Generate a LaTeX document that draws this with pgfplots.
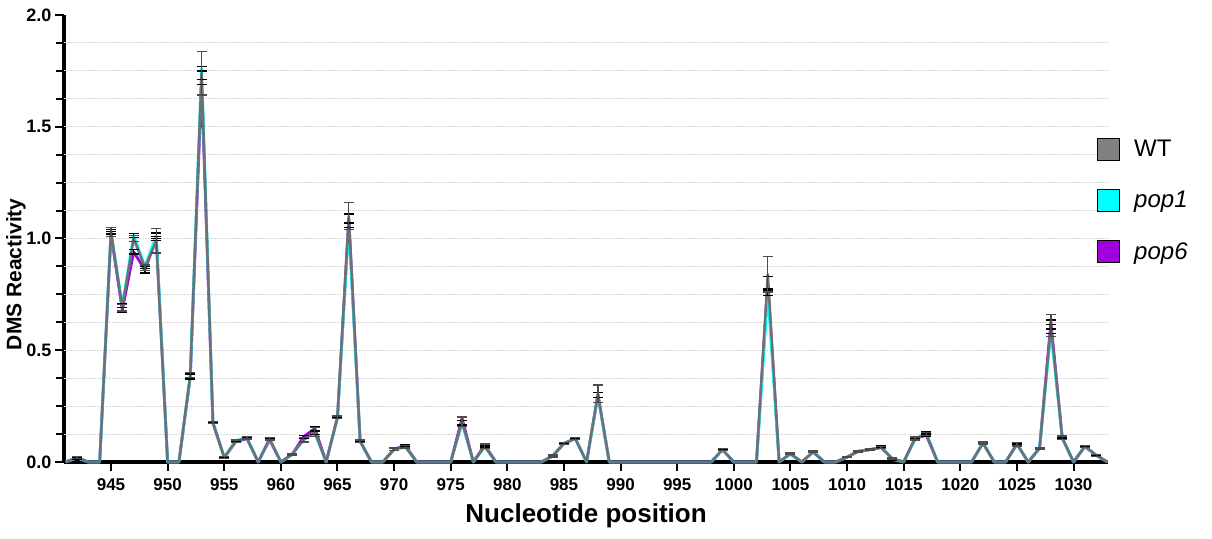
\documentclass[border=0pt]{standalone}
\usepackage{pgfplots}
\pgfplotsset{compat=1.18}
\usepackage{pgfplotstable}
\usepackage{fontspec}
\setmainfont{Liberation Sans}
\definecolor{wtline}{RGB}{110,112,115}
\definecolor{wtfill}{RGB}{128,128,128}
\definecolor{popone}{RGB}{0,255,255}
\definecolor{popsix}{RGB}{160,0,220}
\definecolor{gridc}{RGB}{215,215,215}

\pgfplotstableread{
x wt ewt p1 ep1 p6 ep6
941 0 0 0 0 0 0
942 0.020 0.005 0.018 0.004 0.020 0.004
943 0 0 0 0 0 0
944 0 0 0 0 0 0
945 1.030 0.020 1.030 0.010 1.020 0.010
946 0.690 0.015 0.700 0.010 0.680 0.012
947 1.000 0.012 1.013 0.010 0.940 0.010
948 0.870 0.012 0.875 0.010 0.860 0.015
949 0.990 0.055 1.013 0.012 1.000 0.010
950 0 0 0 0 0 0
951 0 0 0 0 0 0
952 0.390 0.012 0.385 0.010 0.380 0.010
953 1.740 0.098 1.760 0.010 1.700 0.010
954 0.177 0.005 0.175 0.004 0.175 0.004
955 0.020 0.004 0.020 0.003 0.020 0.003
956 0.092 0.006 0.096 0.004 0.090 0.004
957 0.108 0.005 0.108 0.004 0.105 0.004
958 0 0 0 0 0 0
959 0.104 0.006 0.104 0.004 0.100 0.004
960 0 0 0 0 0 0
961 0.034 0.003 0.034 0.003 0.034 0.003
962 0.100 0.010 0.098 0.006 0.112 0.006
963 0.135 0.020 0.130 0.008 0.150 0.010
964 0 0 0 0 0 0
965 0.200 0.006 0.198 0.004 0.200 0.004
966 1.100 0.060 1.060 0.012 1.090 0.020
967 0.093 0.006 0.093 0.004 0.093 0.004
968 0 0 0 0 0 0
969 0 0 0 0 0 0
970 0.057 0.006 0.055 0.004 0.057 0.004
971 0.068 0.006 0.068 0.004 0.073 0.004
972 0 0 0 0 0 0
973 0 0 0 0 0 0
974 0 0 0 0 0 0
975 0 0 0 0 0 0
976 0.180 0.022 0.175 0.010 0.195 0.010
977 0 0 0 0 0 0
978 0.070 0.010 0.068 0.005 0.075 0.006
979 0 0 0 0 0 0
980 0 0 0 0 0 0
981 0 0 0 0 0 0
982 0 0 0 0 0 0
983 0 0 0 0 0 0
984 0.027 0.004 0.027 0.003 0.027 0.003
985 0.083 0.004 0.083 0.003 0.083 0.003
986 0.105 0.004 0.105 0.003 0.105 0.003
987 0 0 0 0 0 0
988 0.305 0.040 0.300 0.010 0.300 0.012
989 0 0 0 0 0 0
990 0 0 0 0 0 0
991 0 0 0 0 0 0
992 0 0 0 0 0 0
993 0 0 0 0 0 0
994 0 0 0 0 0 0
995 0 0 0 0 0 0
996 0 0 0 0 0 0
997 0 0 0 0 0 0
998 0 0 0 0 0 0
999 0.055 0.005 0.055 0.003 0.055 0.003
1000 0 0 0 0 0 0
1001 0 0 0 0 0 0
1002 0 0 0 0 0 0
1003 0.840 0.080 0.760 0.015 0.800 0.030
1004 0 0 0 0 0 0
1005 0.037 0.003 0.035 0.003 0.037 0.003
1006 0 0 0 0 0 0
1007 0.045 0.004 0.045 0.003 0.045 0.003
1008 0 0 0 0 0 0
1009 0 0 0 0 0 0
1010 0.022 0.003 0.022 0.003 0.022 0.003
1011 0.048 0.003 0.048 0.003 0.048 0.003
1012 0.055 0.003 0.055 0.003 0.055 0.003
1013 0.065 0.004 0.068 0.003 0.065 0.003
1014 0.015 0.003 0.012 0.003 0.015 0.003
1015 0 0 0 0 0 0
1016 0.105 0.007 0.100 0.004 0.105 0.004
1017 0.125 0.007 0.130 0.004 0.120 0.004
1018 0 0 0 0 0 0
1019 0 0 0 0 0 0
1020 0 0 0 0 0 0
1021 0 0 0 0 0 0
1022 0.085 0.004 0.085 0.003 0.085 0.003
1023 0 0 0 0 0 0
1024 0 0 0 0 0 0
1025 0.080 0.008 0.078 0.004 0.080 0.004
1026 0 0 0 0 0 0
1027 0.062 0.004 0.062 0.003 0.062 0.003
1028 0.610 0.050 0.585 0.010 0.625 0.010
1029 0.108 0.008 0.108 0.004 0.108 0.004
1030 0 0 0 0 0 0
1031 0.070 0.005 0.068 0.003 0.070 0.003
1032 0.030 0.004 0.030 0.003 0.030 0.003
1033 0 0 0 0 0 0
}\data

\pgfplotsset{
  ebar/.style={forget plot, draw=none, mark=none,
    error bars/.cd, y dir=both, y explicit, error mark=-,
    error bar style={draw=#1, solid, line width=1.3pt},
    error mark options={draw=#1, solid, line width=1.3pt, mark size=5pt, rotate=90}},
}

\begin{document}
\begin{tikzpicture}
\useasboundingbox (0pt,0pt) rectangle (1212pt,538pt);
\begin{axis}[
  at={(64pt,76pt)}, anchor=south west,
  width=1044pt, height=447pt, scale only axis,
  xmin=940.85, xmax=1033.05, ymin=0, ymax=2,
  clip=false,
  axis x line*=bottom, axis y line*=left,
  axis line style={line width=3.5pt, black, -},
  xtick={945,950,...,1030},
  xticklabels={945,950,955,960,965,970,975,980,985,990,995,1000,1005,1010,1015,1020,1025,1030},
  ytick={0,0.5,1,1.5,2},
  yticklabels={0.0,0.5,1.0,1.5,2.0},
  minor y tick num=3,
  tick align=outside,
  major tick length=9pt, minor tick length=8pt,
  tick style={black, line width=2pt},
  minor tick style={black, line width=2pt},
  ticklabel style={font=\bfseries\fontsize{17}{20}\selectfont},
  xticklabel style={yshift=-4pt},
  yticklabel style={font=\bfseries\fontsize{18}{20}\selectfont},
  extra y ticks={0.125,0.25,...,1.875},
  extra y tick labels={},
  extra y tick style={grid=major, major tick length=0pt},
  major grid style={gridc, line width=1pt, dash pattern=on 1.5pt off 1.5pt},
  xlabel={Nucleotide position},
  xlabel style={font=\bfseries\fontsize{26}{30}\selectfont, at={(axis description cs:0.5,0)}, anchor=base, yshift=-60pt},
  ylabel={DMS Reactivity},
  ylabel style={font=\bfseries\fontsize{21}{25}\selectfont, at={(axis description cs:-0.046,0.42)}, anchor=center},
  legend style={at={(0.9895,0.7264)}, anchor=north west, draw=none, fill=none,
    inner sep=0pt, font=\fontsize{24}{28}\selectfont, row sep=28.5pt, column sep=12pt},
  legend cell align=left,
]
\addlegendimage{legend image code/.code={\draw[fill=wtfill, draw=black, line width=0.9pt] (0pt,-11pt) rectangle (22pt,11pt);}}
\addlegendentry{WT}
\addlegendimage{legend image code/.code={\draw[fill=popone, draw=black, line width=0.9pt] (0pt,-11pt) rectangle (22pt,11pt);}}
\addlegendentry{\textit{pop1}}
\addlegendimage{legend image code/.code={\draw[fill=popsix, draw=black, line width=0.9pt] (0pt,-11pt) rectangle (22pt,11pt);}}
\addlegendentry{\textit{pop6}}

\addplot[popsix, line width=2.8pt, forget plot, line join=round] table[x=x, y=p6] {\data};
\addplot[popone, line width=2.8pt, forget plot, line join=round] table[x=x, y=p1] {\data};
\addplot[wtline, line width=2.5pt, forget plot, line join=round] table[x=x, y=wt] {\data};

\addplot[restrict expr to domain={\thisrow{ep6}}{0.0001:10}, ebar=black] table[x=x, y=p6, y error=ep6] {\data};
\addplot[restrict expr to domain={\thisrow{ep1}}{0.0001:10}, ebar=black] table[x=x, y=p1, y error=ep1] {\data};
\addplot[restrict expr to domain={\thisrow{ewt}}{0.0001:10}, ebar=black!70] table[x=x, y=wt, y error=ewt] {\data};
\end{axis}
\end{tikzpicture}
\end{document}
